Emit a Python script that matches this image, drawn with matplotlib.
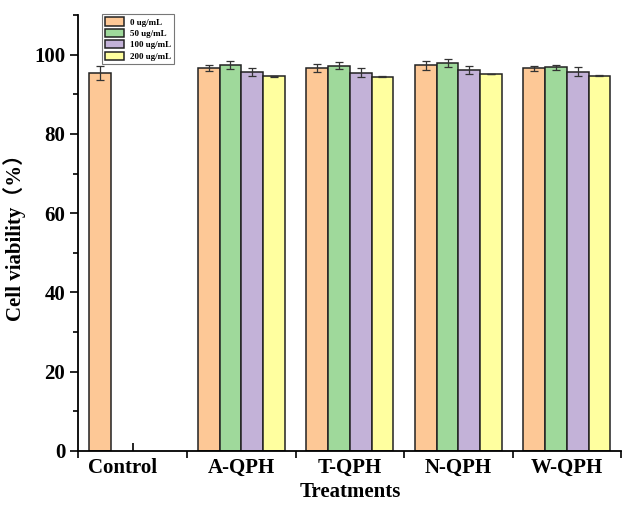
import matplotlib

matplotlib.use("Agg")
import matplotlib.pyplot as plt
import matplotlib.transforms as mtransforms
import numpy as np
from matplotlib.ticker import MultipleLocator, FixedLocator

plt.rcParams["font.family"] = ["Liberation Serif", "Noto Sans CJK SC"]
plt.rcParams["font.weight"] = "bold"

groups = ["Control", "A-QPH", "T-QPH", "N-QPH", "W-QPH"]
doses = ["0 ug/mL", "50 ug/mL", "100 ug/mL", "200 ug/mL"]

# rows = dose, columns = group (Control only has the 0 ug/mL bar)
means = [
    [95.4, 96.7, 96.6, 97.3, 96.5],
    [None, 97.4, 97.2, 97.9, 96.8],
    [None, 95.7, 95.4, 96.2, 95.7],
    [None, 94.5, 94.4, 95.1, 94.7],
]
errs = [
    [1.7, 0.8, 1.1, 1.2, 0.55],
    [None, 1.1, 0.9, 1.0, 0.7],
    [None, 1.0, 1.1, 1.0, 1.1],
    [None, 0.15, 0.1, 0.1, 0.1],
]
colors = ["#FDC896", "#9FD99B", "#C3B2D8", "#FFFF9F"]

fig = plt.figure(figsize=(6.3, 5.13), dpi=100)
ax = fig.add_axes([0.1246, 0.1209, 0.8614, 0.8499])
ax.set_axisbelow(True)

x = np.arange(len(groups))
w = 0.2
for i, dose in enumerate(doses):
    xs = [x[j] + (i - 1.5) * w for j in range(len(groups)) if means[i][j] is not None]
    ys = [m for m in means[i] if m is not None]
    es = [e for e in errs[i] if e is not None]
    ax.bar(xs, ys, width=w, color=colors[i], edgecolor="#222222", linewidth=1.1,
           label=dose, zorder=2)
    ax.errorbar(xs, ys, yerr=es, fmt="none", ecolor="#333333", elinewidth=0.9,
                capsize=3, capthick=0.9, zorder=3)

ax.set_xlim(-0.5, len(groups) - 0.5)
ax.set_ylim(0, 110)
ax.yaxis.set_minor_locator(MultipleLocator(10))
ax.set_yticks([0, 20, 40, 60, 80, 100])
ax.set_xticks(x)
ax.set_xticklabels(groups)
ax.xaxis.set_minor_locator(FixedLocator(np.arange(-0.5, len(groups), 1.0)))

ax.tick_params(axis="y", which="major", direction="out", length=6, width=1.2, labelsize=15)
ax.tick_params(axis="y", which="minor", direction="out", length=3.5, width=1.2)
ax.tick_params(axis="x", which="major", direction="in", length=6, width=1.2, labelsize=15, pad=5)
ax.tick_params(axis="x", which="minor", direction="out", length=5, width=1.2)

# nudge "Control" a bit to the left like in the original
shift = mtransforms.ScaledTranslation(-7 / 72, 0, fig.dpi_scale_trans)
lab0 = ax.xaxis.get_major_ticks()[0].label1
lab0.set_transform(lab0.get_transform() + shift)

for s in ["top", "right"]:
    ax.spines[s].set_visible(False)
for s in ["left", "bottom"]:
    ax.spines[s].set_linewidth(1.3)

ax.set_xlabel("Treatments", fontsize=15, fontweight="bold", labelpad=3)
ax.set_ylabel("Cell viability\uff08%\uff09", fontsize=15, fontweight="bold", labelpad=6)

leg = ax.legend(loc="upper left", bbox_to_anchor=(0.035, 1.012), fontsize=6.5, frameon=True,
                fancybox=False, edgecolor="#555555", handlelength=2.1, handleheight=1.0,
                borderpad=0.35, labelspacing=0.25, handletextpad=0.6)
leg.get_frame().set_linewidth(0.8)

fig.savefig("out.png", dpi=100, facecolor="white")
